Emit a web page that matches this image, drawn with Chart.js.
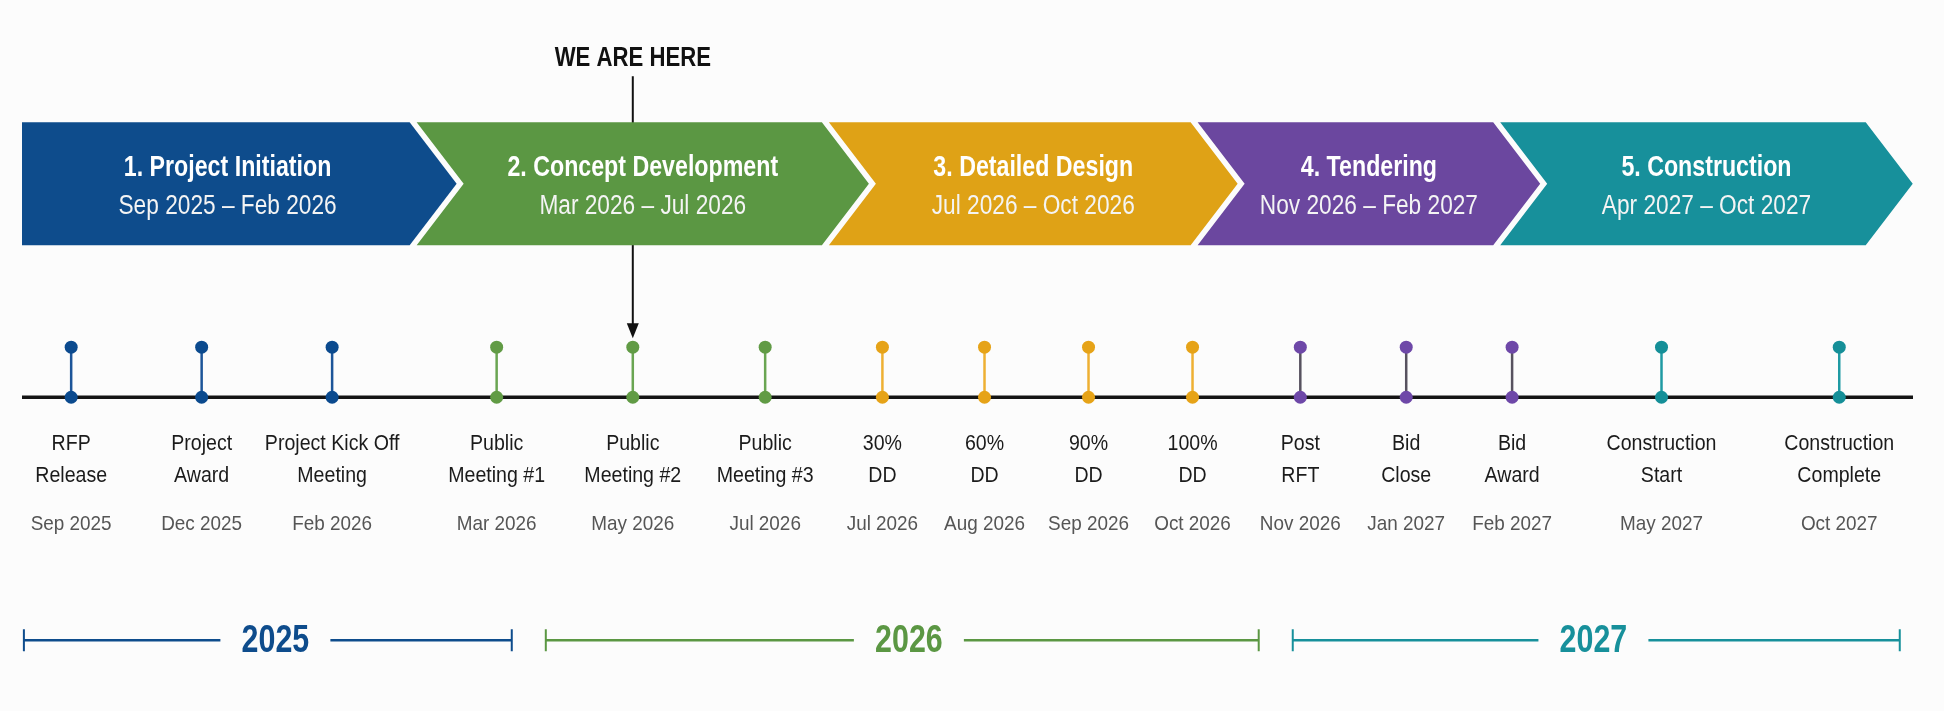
<!DOCTYPE html>
<html>
<head>
<meta charset="utf-8">
<script src="https://cdn.jsdelivr.net/npm/chart.js@4"></script>
<style>
  html, body { margin: 0; padding: 0; background: #fcfcfc; }
  #wrap { width: 1944px; height: 711px; }
</style>
</head>
<body>
<div id="wrap"><canvas id="timelineChart" width="1944" height="711"></canvas></div>
<script>
// phases (chevrons)
const phaseNames = ['1. Project Initiation', '2. Concept Development', '3. Detailed Design', '4. Tendering', '5. Construction'];
const phaseRanges = ['Sep 2025 – Feb 2026', 'Mar 2026 – Jul 2026', 'Jul 2026 – Oct 2026', 'Nov 2026 – Feb 2027', 'Apr 2027 – Oct 2027'];
const phaseEnds = [20.5, 42.3, 61.8, 77.8, 97.5]; // position on the timeline (0-100)

// milestones
const milestoneNames = [
	['RFP', 'Release'], ['Project', 'Award'], ['Project Kick Off', 'Meeting'],
	['Public', 'Meeting #1'], ['Public', 'Meeting #2'], ['Public', 'Meeting #3'],
	['30%', 'DD'], ['60%', 'DD'], ['90%', 'DD'], ['100%', 'DD'],
	['Post', 'RFT'], ['Bid', 'Close'], ['Bid', 'Award'],
	['Construction', 'Start'], ['Construction', 'Complete']
];
const milestoneDates = ['Sep 2025', 'Dec 2025', 'Feb 2026', 'Mar 2026', 'May 2026', 'Jul 2026', 'Jul 2026', 'Aug 2026',
	'Sep 2026', 'Oct 2026', 'Nov 2026', 'Jan 2027', 'Feb 2027', 'May 2027', 'Oct 2027'];
const milestonePos = [2.6, 9.5, 16.4, 25.1, 32.3, 39.3, 45.5, 50.9, 56.4, 61.9, 67.6, 73.2, 78.8, 86.7, 96.1];
const milestonePhase = [0, 0, 0, 1, 1, 1, 2, 2, 2, 2, 3, 3, 3, 4, 4];
const currentMilestone = 4; // WE ARE HERE

// year brackets
const yearLabels = ['2025', '2026', '2027'];
const yearStarts = [0.1, 27.7, 67.2];
const yearEnds = [25.9, 65.4, 99.3];
const yearCenters = [13.4, 46.9, 83.1];
const yearColorIdx = [0, 1, 4];

// colours
const phaseColors = ['#0e4c8c', '#5b9743', '#dfa216', '#6b479f', '#17909b'];
const dotColors = ['#0b4a8e', '#619b45', '#e6a318', '#6e48a8', '#158f98'];
const stemColors = ['#1d5599', '#6aa552', '#eeb033', '#57525f', '#1f9aa3'];

const STEM = 1;
const FONT = '"Liberation Sans", Arial, sans-serif';

function squeezeText(ctx, text, x, y, font, color, sx) {
	ctx.save();
	ctx.font = font;
	ctx.fillStyle = color;
	ctx.textAlign = 'center';
	ctx.textBaseline = 'middle';
	ctx.translate(x, y);
	ctx.scale(sx, 1);
	ctx.fillText(text, 0, 0);
	ctx.restore();
}

// stem data: bottom dot, top dot, gap
const stemData = [];
milestonePos.forEach(function(p) {
	stemData.push({x: p, y: 0}, {x: p, y: STEM}, {x: p, y: null});
});
const phaseOfPoint = (i) => milestonePhase[Math.floor(i / 3)];

const decorPlugin = {
	id: 'decor',
	beforeDraw(chart) {
		const c = chart.ctx;
		c.save();
		c.fillStyle = '#fcfcfc';
		c.fillRect(0, 0, chart.width, chart.height);
		c.restore();
	},
	beforeDatasetsDraw(chart) {
		const c = chart.ctx;
		const xs = chart.scales.x;
		const base = chart.scales.y.getPixelForValue(0);
		const top = chart.scales.y.getPixelForValue(STEM);
		const bandTop = base - 275, bandBot = base - 152, mid = (bandTop + bandBot) / 2;
		const tip = 47, gap = 7;

		// WE ARE HERE pointer
		const hx = xs.getPixelForValue(milestonePos[currentMilestone]);
		c.save();
		c.strokeStyle = '#111';
		c.lineWidth = 2;
		c.beginPath();
		c.moveTo(hx, base - 321);
		c.lineTo(hx, top - 22);
		c.stroke();
		c.fillStyle = '#111';
		c.beginPath();
		c.moveTo(hx - 6, top - 24);
		c.lineTo(hx + 6, top - 24);
		c.lineTo(hx, top - 9);
		c.closePath();
		c.fill();
		c.restore();
		squeezeText(c, 'WE ARE HERE', hx, base - 339, 'bold 27px ' + FONT, '#111', 0.82);

		// chevrons
		phaseEnds.forEach(function(end, i) {
			const s = i === 0 ? xs.left : xs.getPixelForValue(phaseEnds[i - 1]) + gap;
			const e = xs.getPixelForValue(end);
			c.save();
			c.fillStyle = phaseColors[i];
			c.beginPath();
			c.moveTo(s, bandTop);
			c.lineTo(e, bandTop);
			c.lineTo(e + tip, mid);
			c.lineTo(e, bandBot);
			c.lineTo(s, bandBot);
			if (i > 0) c.lineTo(s + tip, mid);
			c.closePath();
			c.fill();
			c.restore();
			const left = i === 0 ? s : s + tip / 2;
			const cx = (left + e + tip / 2) / 2;
			squeezeText(c, phaseNames[i], cx, mid - 16, 'bold 29px ' + FONT, '#ffffff', 0.8);
			squeezeText(c, phaseRanges[i], cx, mid + 23, '27px ' + FONT, '#f4f4f4', 0.84);
		});
	},
	afterDatasetsDraw(chart) {
		const c = chart.ctx;
		const xs = chart.scales.x;
		const base = chart.scales.y.getPixelForValue(0);

		// milestone labels
		milestonePos.forEach(function(p, i) {
			const x = xs.getPixelForValue(p);
			squeezeText(c, milestoneNames[i][0], x, base + 47, '22px ' + FONT, '#1b1b1b', 0.89);
			squeezeText(c, milestoneNames[i][1], x, base + 79, '22px ' + FONT, '#1b1b1b', 0.89);
			squeezeText(c, milestoneDates[i], x, base + 127, '21px ' + FONT, '#555555', 0.9);
		});

		// year brackets
		const yy = base + 243;
		yearLabels.forEach(function(label, i) {
			const col = phaseColors[yearColorIdx[i]];
			const x0 = xs.getPixelForValue(yearStarts[i]);
			const x1 = xs.getPixelForValue(yearEnds[i]);
			const cx = xs.getPixelForValue(yearCenters[i]);
			c.save();
			c.strokeStyle = col;
			c.lineWidth = 2.5;
			c.beginPath();
			c.moveTo(x0, yy); c.lineTo(cx - 55, yy);
			c.moveTo(cx + 55, yy); c.lineTo(x1, yy);
			c.stroke();
			c.lineWidth = 2;
			c.beginPath();
			c.moveTo(x0, yy - 11); c.lineTo(x0, yy + 11);
			c.moveTo(x1, yy - 11); c.lineTo(x1, yy + 11);
			c.stroke();
			c.restore();
			squeezeText(c, label, cx, yy + 1, 'bold 38px ' + FONT, col, 0.8);
		});
	}
};

const ctx = document.getElementById('timelineChart').getContext('2d');
const timelineChart = new Chart(ctx, {
	type: 'line',
	data: {
		datasets: [
			{
				label: 'stems',
				data: stemData,
				order: 1,
				borderWidth: 2.5,
				borderColor: '#333',
				spanGaps: false,
				segment: {
					borderColor: (s) => stemColors[phaseOfPoint(s.p0DataIndex)]
				},
				pointRadius: 6.5,
				pointBorderWidth: 0,
				pointBackgroundColor: (s) => dotColors[phaseOfPoint(s.dataIndex)]
			},
			{
				label: 'timeline',
				data: [{x: 0, y: 0}, {x: 100, y: 0}],
				order: 2,
				borderColor: '#141414',
				borderWidth: 3.5,
				pointRadius: 0
			}
		]
	},
	plugins: [decorPlugin],
	options: {
		responsive: false,
		devicePixelRatio: 1,
		animation: false,
		events: [],
		layout: { padding: { left: 22, right: 31, top: 0, bottom: 0 } },
		scales: {
			x: { type: 'linear', min: 0, max: 100, display: false },
			y: { type: 'linear', min: -6.137, max: 7.804, display: false }
		},
		plugins: {
			legend: { display: false },
			tooltip: { enabled: false }
		}
	}
});
</script>
</body>
</html>
